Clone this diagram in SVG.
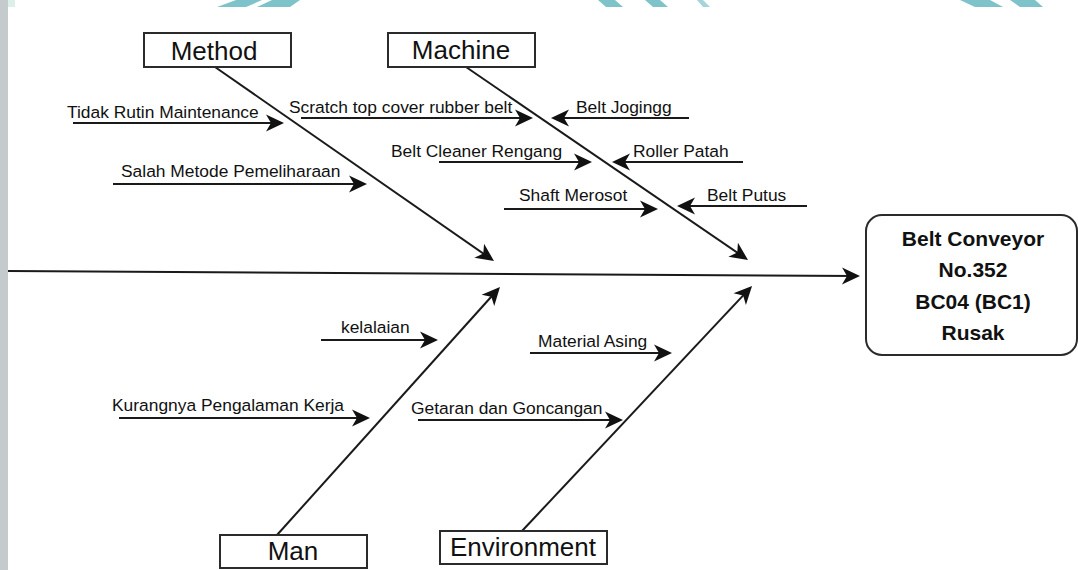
<svg xmlns="http://www.w3.org/2000/svg" width="1078" height="570" viewBox="0 0 1078 570">
  <style>
    .box { fill: #ffffff; stroke: #2b2b2b; stroke-width: 2; }
    .cat { font-family: "Liberation Sans", Arial, sans-serif; font-size: 26px; fill: #111; text-anchor: middle; }
    .cause { font-family: "Liberation Sans", Arial, sans-serif; font-size: 17.4px; fill: #111; }
    .effect-text { font-family: "Liberation Sans", Arial, sans-serif; font-size: 21px; font-weight: bold; fill: #111; text-anchor: middle; }
    .bone { fill: none; stroke: #1a1a1a; stroke-width: 2; marker-end: url(#arrow); }
    .rib { fill: none; stroke: #1a1a1a; stroke-width: 2.2; marker-end: url(#arrow); }
    .stripe { fill: #7ec3c9; }
  </style>
  <defs>
    <marker id="arrow" markerUnits="userSpaceOnUse" viewBox="-16 -10 22 20" refX="0" refY="0" markerWidth="22" markerHeight="20" orient="auto">
      <path d="M4,0 L-14,-8.5 L-9,0 L-14,8.5 Z" fill="#111"/>
    </marker>
  </defs>

  <!-- page background with edge decoration -->
  <rect x="0" y="0" width="1078" height="570" fill="#ffffff"/>
  <rect x="0" y="0" width="8" height="570" fill="#c5cbcd"/>
  <rect x="8" y="0" width="7" height="7" fill="#dcefe8"/>
  <g id="top-stripes">
    <polygon class="stripe" points="217,7 236,0 262,0 246,7"/>
    <polygon class="stripe" points="257,7 272,0 300,0 290,7"/>
    <polygon class="stripe" points="598,0 615,0 623,7 606,7"/>
    <polygon class="stripe" points="645,0 660,0 668,7 653,7"/>
    <polygon class="stripe" points="697,0 703,0 710,7 703,7" opacity="0.7"/>
    <polygon class="stripe" points="960,0 990,0 1003,7 975,7"/>
    <polygon class="stripe" points="1010,0 1035,0 1043,7 1020,7"/>
  </g>

  <!-- connectors: spine, category bones and cause ribs -->
  <g id="connectors">
    <line class="bone" x1="8" y1="271" x2="856" y2="276"/>

    <line class="bone" x1="215" y1="67" x2="490.7" y2="258.7"/>
    <line class="bone" x1="466" y1="67" x2="744.7" y2="257.7"/>
    <line class="bone" x1="277" y1="535" x2="497.3" y2="290"/>
    <line class="bone" x1="522" y1="531" x2="749.3" y2="288.9"/>

    <line class="rib" x1="73" y1="123" x2="280" y2="123"/>
    <line class="rib" x1="113" y1="184" x2="363" y2="184"/>
    <line class="rib" x1="301" y1="118" x2="529" y2="118"/>
    <line class="rib" x1="689" y1="118" x2="555" y2="118"/>
    <line class="rib" x1="439" y1="162" x2="588" y2="162"/>
    <line class="rib" x1="743" y1="162" x2="616" y2="162"/>
    <line class="rib" x1="504" y1="209" x2="654" y2="209"/>
    <line class="rib" x1="807" y1="206" x2="681" y2="206"/>

    <line class="rib" x1="321" y1="340" x2="434" y2="340"/>
    <line class="rib" x1="119" y1="418" x2="366" y2="418"/>
    <line class="rib" x1="530" y1="353" x2="668" y2="353"/>
    <line class="rib" x1="418" y1="420" x2="619" y2="420"/>
  </g>

  <!-- category heads -->
  <g id="cat-method">
    <rect class="box" x="144" y="33" width="147" height="34"/>
    <text class="cat" x="214" y="60">Method</text>
  </g>
  <g id="cat-machine">
    <rect class="box" x="388" y="33" width="147" height="34"/>
    <text class="cat" x="461" y="59">Machine</text>
  </g>
  <g id="cat-man">
    <rect class="box" x="220" y="535" width="147" height="33"/>
    <text class="cat" x="293" y="560">Man</text>
  </g>
  <g id="cat-environment">
    <rect class="box" x="440" y="531" width="167" height="33"/>
    <text class="cat" x="523" y="556">Environment</text>
  </g>

  <!-- effect -->
  <g id="effect">
    <rect class="box" x="866" y="215" width="211" height="140" rx="16" ry="16"/>
    <text class="effect-text" x="973" y="246">Belt Conveyor</text>
    <text class="effect-text" x="973" y="277">No.352</text>
    <text class="effect-text" x="973" y="309">BC04 (BC1)</text>
    <text class="effect-text" x="973" y="340">Rusak</text>
  </g>

  <!-- causes -->
  <g id="cause-tidak-rutin"><text class="cause" x="67" y="118">Tidak Rutin Maintenance</text></g>
  <g id="cause-salah-metode"><text class="cause" x="121" y="177">Salah Metode Pemeliharaan</text></g>
  <g id="cause-scratch"><text class="cause" x="289" y="113">Scratch top cover rubber belt</text></g>
  <g id="cause-jogingg"><text class="cause" x="576" y="113">Belt Jogingg</text></g>
  <g id="cause-cleaner"><text class="cause" x="391" y="157">Belt Cleaner Rengang</text></g>
  <g id="cause-roller"><text class="cause" x="633" y="157">Roller Patah</text></g>
  <g id="cause-shaft"><text class="cause" x="519" y="201">Shaft Merosot</text></g>
  <g id="cause-putus"><text class="cause" x="707" y="201">Belt Putus</text></g>
  <g id="cause-kelalaian"><text class="cause" x="341" y="333">kelalaian</text></g>
  <g id="cause-pengalaman"><text class="cause" x="112" y="411">Kurangnya Pengalaman Kerja</text></g>
  <g id="cause-material"><text class="cause" x="538" y="347">Material Asing</text></g>
  <g id="cause-getaran"><text class="cause" x="411" y="414">Getaran dan Goncangan</text></g>
</svg>
